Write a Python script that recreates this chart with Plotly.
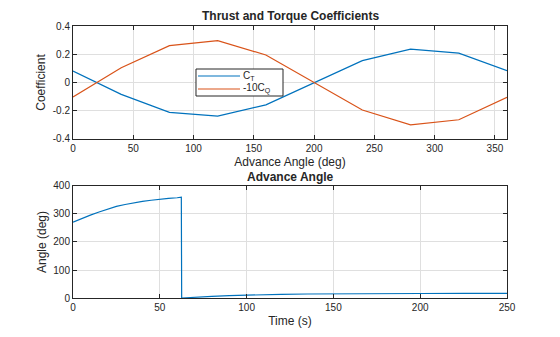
import plotly.graph_objects as go

# Thrust / torque coefficients vs advance angle
advance_deg = [0, 40, 80, 120, 160, 200, 240, 280, 320, 360]
ct = [0.081, -0.084, -0.211, -0.238, -0.158, -0.002, 0.155, 0.236, 0.208, 0.084]
neg10cq = [-0.103, 0.105, 0.261, 0.296, 0.195, -0.002, -0.195, -0.300, -0.264, -0.105]
series_names = ["C<sub>T</sub>", "-10C<sub>Q</sub>"]

# Advance angle vs time (wraps from 360 back to 0 deg)
time_s = [0, 5, 10, 15, 20, 25, 30, 35, 40, 45, 50, 55, 60, 62.4,
          62.6, 65, 70, 75, 80, 90, 100, 110, 120, 135, 150, 175, 200, 225, 250]
angle_deg = [271, 284, 296, 307, 318, 327, 334, 340, 345, 349, 353, 356, 358, 360,
             0, 1, 3, 4.5, 6, 8.5, 10.5, 12, 13, 14.2, 15, 15.6, 16, 16.2, 16.3]

BLUE = "#0072BD"
ORANGE = "#D95319"
AX = "#262626"
GRID = "#DFDFDF"
FONT = "Liberation Sans, Arial, sans-serif"

fig = go.Figure()
fig.add_trace(go.Scatter(x=advance_deg, y=ct, mode="lines", name=series_names[0],
                         showlegend=False, line=dict(color=BLUE, width=1.2),
                         xaxis="x", yaxis="y"))
fig.add_trace(go.Scatter(x=advance_deg, y=neg10cq, mode="lines", name=series_names[1],
                         showlegend=False, line=dict(color=ORANGE, width=1.2),
                         xaxis="x", yaxis="y"))
fig.add_trace(go.Scatter(x=time_s, y=angle_deg, mode="lines", showlegend=False,
                         line=dict(color=BLUE, width=1.2), xaxis="x2", yaxis="y2"))

axis_common = dict(showline=True, linecolor=AX, linewidth=1, mirror="ticks",
                   ticks="inside", ticklen=4, tickcolor=AX, showgrid=True,
                   gridcolor=GRID, gridwidth=1, zeroline=False,
                   tickfont=dict(family=FONT, size=10, color=AX),
                   title_font=dict(family=FONT, size=12, color=AX))

top_dom = [0.5846, 1.0]
bot_dom = [0.0, 0.4118]

# compact boxed legend inside the upper axes (paper coordinates)
leg_x0, leg_x1, leg_y0, leg_y1 = 0.2834, 0.4839, 0.7426, 0.8419
leg_rows = [0.8162, 0.7684]
leg_line = (0.288, 0.3848)
leg_colors = [BLUE, ORANGE]

shapes = [dict(type="rect", xref="paper", yref="paper", x0=leg_x0, x1=leg_x1,
               y0=leg_y0, y1=leg_y1, line=dict(color=AX, width=1), fillcolor="white",
               layer="above")]
annotations = [
    dict(text="<b>Thrust and Torque Coefficients</b>", x=0.5, y=1.0,
         xref="paper", yref="paper", xanchor="center", yanchor="bottom",
         yshift=1, showarrow=False, font=dict(family=FONT, size=12, color=AX)),
    dict(text="<b>Advance Angle</b>", x=0.5, y=bot_dom[1],
         xref="paper", yref="paper", xanchor="center", yanchor="bottom",
         yshift=0, showarrow=False, font=dict(family=FONT, size=12, color=AX)),
]
for yr, col, name in zip(leg_rows, leg_colors, series_names):
    shapes.append(dict(type="line", xref="paper", yref="paper", x0=leg_line[0],
                       x1=leg_line[1], y0=yr, y1=yr, line=dict(color=col, width=1.2),
                       layer="above"))
    annotations.append(dict(text=name, x=leg_line[1] + 0.005, y=yr, xref="paper",
                            yref="paper", xanchor="left", yanchor="middle",
                            showarrow=False, borderpad=0,
                            font=dict(family=FONT, size=10, color=AX)))

fig.update_layout(
    width=560, height=337,
    margin=dict(l=73, r=53, t=26, b=39),
    paper_bgcolor="white", plot_bgcolor="white",
    font=dict(family=FONT, color=AX),
    showlegend=False,
    xaxis=dict(axis_common, domain=[0, 1], anchor="y", range=[0, 360],
               tickvals=[0, 50, 100, 150, 200, 250, 300, 350],
               title=dict(text="Advance Angle (deg)", standoff=4)),
    yaxis=dict(axis_common, domain=top_dom, anchor="x", range=[-0.4, 0.4],
               tickvals=[-0.4, -0.2, 0, 0.2, 0.4],
               ticktext=["-0.4", "-0.2", "0", "0.2", "0.4"],
               title=dict(text="Coefficient", standoff=4)),
    xaxis2=dict(axis_common, domain=[0, 1], anchor="y2", range=[0, 250],
                tickvals=[0, 50, 100, 150, 200, 250],
                title=dict(text="Time (s)", standoff=4)),
    yaxis2=dict(axis_common, domain=bot_dom, anchor="x2", range=[0, 400],
                tickvals=[0, 100, 200, 300, 400],
                title=dict(text="Angle (deg)", standoff=4)),
    shapes=shapes,
    annotations=annotations,
)

fig.write_html("out.html")
